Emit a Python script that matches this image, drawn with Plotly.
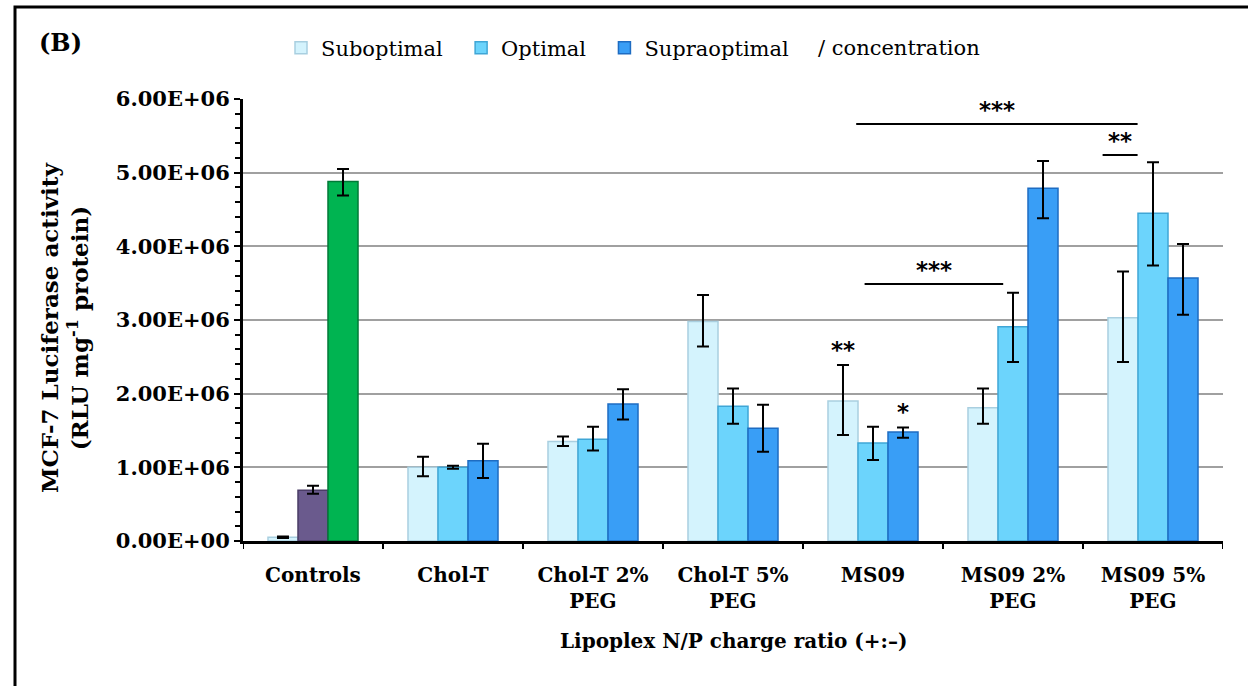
import plotly.graph_objects as go

# ---------------- data ----------------
categories = ["Controls", "Chol-T", "Chol-T 2%<br>PEG", "Chol-T 5%<br>PEG",
              "MS09", "MS09 2%<br>PEG", "MS09 5%<br>PEG"]
series_names = ["Suboptimal", "Optimal", "Supraoptimal"]

subopt = [0.05e6, 1.00e6, 1.35e6, 2.98e6, 1.90e6, 1.81e6, 3.03e6]
subopt_err_hi = [0.01e6, 0.145e6, 0.07e6, 0.36e6, 0.49e6, 0.26e6, 0.63e6]
subopt_err_lo = [0.01e6, 0.12e6, 0.06e6, 0.34e6, 0.46e6, 0.22e6, 0.60e6]

opt = [0.69e6, 1.00e6, 1.38e6, 1.83e6, 1.33e6, 2.91e6, 4.45e6]
opt_err_hi = [0.06e6, 0.02e6, 0.17e6, 0.24e6, 0.22e6, 0.46e6, 0.69e6]
opt_err_lo = [0.05e6, 0.02e6, 0.15e6, 0.24e6, 0.23e6, 0.48e6, 0.71e6]

supra = [4.88e6, 1.09e6, 1.86e6, 1.53e6, 1.48e6, 4.79e6, 3.57e6]
supra_err_hi = [0.17e6, 0.23e6, 0.20e6, 0.32e6, 0.06e6, 0.37e6, 0.46e6]
supra_err_lo = [0.19e6, 0.235e6, 0.21e6, 0.32e6, 0.08e6, 0.41e6, 0.50e6]

y_tickvals = [0, 1e6, 2e6, 3e6, 4e6, 5e6, 6e6]
y_ticktext = ["0.00E+00", "1.00E+06", "2.00E+06", "3.00E+06",
              "4.00E+06", "5.00E+06", "6.00E+06"]

# significance brackets: (label, x_start, x_end, y) in category units
brackets = [("***", 3.88, 5.89, 5.66e6),
            ("**", 5.64, 5.89, 5.24e6),
            ("***", 3.94, 4.93, 3.49e6)]
# single-bar stars: (label, category index, bar offset index, y)
bar_stars = [("**", 4, -1, 2.59e6), ("*", 4, 1, 1.75e6)]

# ---------------- style ----------------
FONT = "DejaVu Serif"
c_sub, c_opt, c_sup = "#d4f3fd", "#6cd4fc", "#399ef6"
l_sub, l_opt, l_sup = "#a9cfe0", "#3fa6d6", "#1e6cc2"
c_purple, l_purple = "#6a5a8d", "#4a3d66"
c_green, l_green = "#00b451", "#007a37"

x_idx = list(range(len(categories)))

def mk_err(hi, lo):
    return dict(type="data", symmetric=False, array=hi, arrayminus=lo,
                color="black", thickness=2, width=6)

fig = go.Figure()
fig.add_trace(go.Bar(x=x_idx, y=subopt, name=series_names[0], showlegend=False,
                     marker=dict(color=c_sub, line=dict(color=l_sub, width=1.5)),
                     error_y=mk_err(subopt_err_hi, subopt_err_lo)))
fig.add_trace(go.Bar(x=x_idx, y=opt, name=series_names[1], showlegend=False,
                     marker=dict(color=[c_purple] + [c_opt] * 6,
                                 line=dict(color=[l_purple] + [l_opt] * 6, width=1.5)),
                     error_y=mk_err(opt_err_hi, opt_err_lo)))
fig.add_trace(go.Bar(x=x_idx, y=supra, name=series_names[2], showlegend=False,
                     marker=dict(color=[c_green] + [c_sup] * 6,
                                 line=dict(color=[l_green] + [l_sup] * 6, width=1.5)),
                     error_y=mk_err(supra_err_hi, supra_err_lo)))
# legend entries (extra non-breaking spaces widen the gaps between items)
pads = ["\u00a0\u00a0", "\u00a0\u00a0", ""]
for nm, pad, c, lc in zip(series_names, pads, [c_sub, c_opt, c_sup], [l_sub, l_opt, l_sup]):
    fig.add_trace(go.Scatter(x=[None], y=[None], mode="markers", name=nm + pad,
                             marker=dict(symbol="square", size=12, color=c,
                                         line=dict(color=lc, width=1.5))))

W, H = 1248, 686
ml, mr, mt, mb = 243, 25, 99, 145
pw, ph = W - ml - mr, H - mt - mb

def px_x(p):
    return (p - ml) / pw

def px_y(p):
    return (H - mb - p) / ph

bargap = 0.357
bar_w = (1 - bargap) / 3

annotations = []
shapes = []
for lab, x0, x1, yv in brackets:
    shapes.append(dict(type="line", xref="x", yref="y", x0=x0, x1=x1, y0=yv, y1=yv,
                       line=dict(color="black", width=2)))
    annotations.append(dict(x=(x0 + x1) / 2, y=yv, xref="x", yref="y", text="<b>%s</b>" % lab,
                            showarrow=False, yanchor="bottom", yshift=-1,
                            font=dict(family="DejaVu Sans", size=23, color="black")))
for lab, ci, bi, yv in bar_stars:
    annotations.append(dict(x=ci + bi * bar_w, y=yv, xref="x", yref="y", text="<b>%s</b>" % lab,
                            showarrow=False, yanchor="middle",
                            font=dict(family="DejaVu Sans", size=23, color="black")))

annotations += [
    dict(x=px_x(37), y=px_y(42), xref="paper", yref="paper", text="<b>(B)</b>",
         showarrow=False, xanchor="left", yanchor="middle",
         font=dict(family=FONT, size=24, color="black")),
    dict(x=px_x(816), y=px_y(48), xref="paper", yref="paper", text="/ concentration",
         showarrow=False, xanchor="left", yanchor="middle",
         font=dict(family=FONT, size=21, color="black")),
    dict(x=px_x(64), y=px_y(328), xref="paper", yref="paper",
         text="<b>MCF-7 Luciferase activity<br>(RLU mg<sup>-1</sup> protein)</b>",
         showarrow=False, textangle=-90, xanchor="center", yanchor="middle",
         font=dict(family=FONT, size=23, color="black")),
    dict(x=px_x(733), y=px_y(641), xref="paper", yref="paper",
         text="<b>Lipoplex N/P charge ratio (+:–)</b>",
         showarrow=False, xanchor="center", yanchor="middle",
         font=dict(family=FONT, size=20, color="black")),
]

# frame around the figure
shapes.append(dict(type="rect", xref="paper", yref="paper",
                   x0=px_x(15), x1=px_x(1260), y0=px_y(7), y1=px_y(700),
                   line=dict(color="black", width=3), layer="above"))
# boundary ticks on x axis
for i in range(len(categories) + 1):
    shapes.append(dict(type="line", xref="x", yref="paper", x0=i - 0.5, x1=i - 0.5,
                       y0=0, y1=-8 / ph, line=dict(color="black", width=2)))

fig.update_layout(
    width=W, height=H,
    margin=dict(l=ml, r=mr, t=mt, b=mb, autoexpand=False),
    paper_bgcolor="white", plot_bgcolor="white",
    barmode="group", bargap=bargap, bargroupgap=0,
    font=dict(family=FONT, color="black"),
    showlegend=True,
    legend=dict(orientation="h", x=px_x(281), y=px_y(48), xanchor="left", yanchor="middle",
                font=dict(family=FONT, size=21, color="black"),
                itemwidth=30, tracegroupgap=0, bgcolor="rgba(0,0,0,0)"),
    annotations=annotations,
    shapes=shapes,
)
fig.update_xaxes(
    tickmode="array", tickvals=x_idx,
    ticktext=["<b>%s</b>" % c for c in categories],
    tickfont=dict(family=FONT, size=20, color="black"),
    range=[-0.5, len(categories) - 0.5],
    showline=True, linecolor="black", linewidth=3,
    ticks="", showgrid=False, zeroline=False, ticklabelstandoff=14,
)
fig.update_yaxes(
    range=[0, 6e6], tickmode="array", tickvals=y_tickvals,
    ticktext=["<b>%s</b>" % t for t in y_ticktext],
    tickfont=dict(family=FONT, size=21, color="black"),
    showline=True, linecolor="black", linewidth=3,
    ticks="outside", ticklen=6, tickwidth=2, tickcolor="black",
    minor=dict(dtick=2e5, tick0=0, ticks="outside", ticklen=5, tickwidth=2,
               tickcolor="black", showgrid=False),
    showgrid=True, gridcolor="#a0a0a0", gridwidth=2, zeroline=False,
)

fig.write_html("out.html")
